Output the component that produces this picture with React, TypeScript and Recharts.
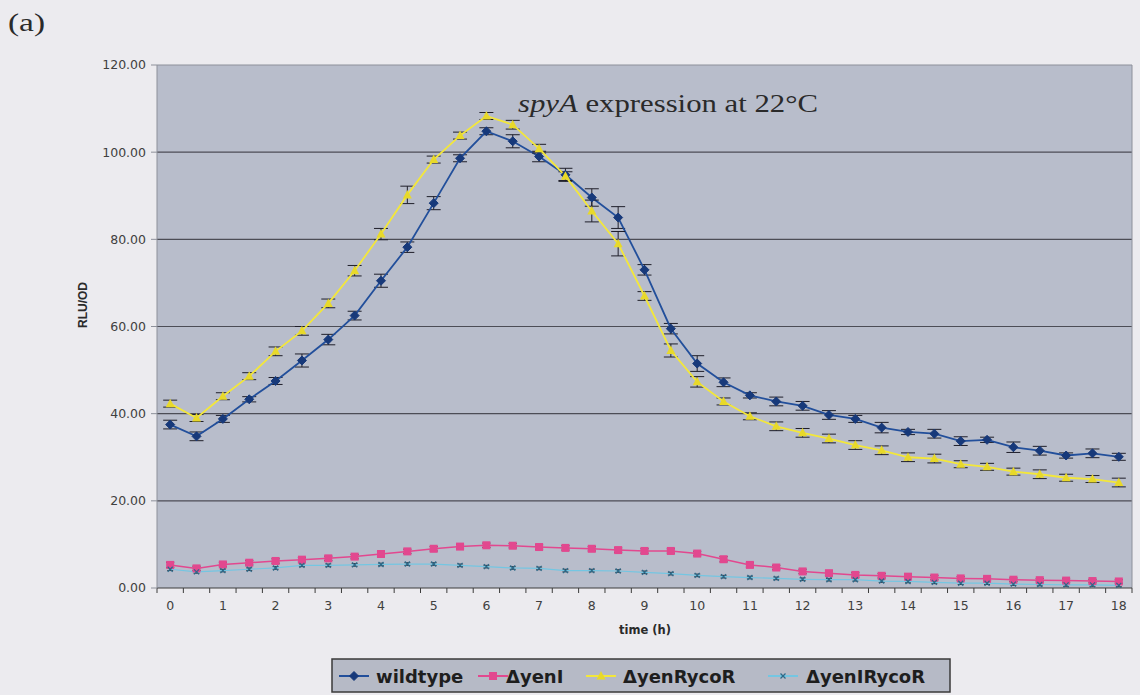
import React from 'react';
import {
  LineChart,
  Line,
  XAxis,
  YAxis,
  CartesianGrid,
  ReferenceLine,
  ErrorBar,
} from 'recharts';

// time points (h)
const TIME = [
  0, 0.5, 1, 1.5, 2, 2.5, 3, 3.5, 4, 4.5, 5, 5.5, 6, 6.5, 7, 7.5, 8, 8.5, 9,
  9.5, 10, 10.5, 11, 11.5, 12, 12.5, 13, 13.5, 14, 14.5, 15, 15.5, 16, 16.5, 17,
  17.5, 18,
];

const WILDTYPE = [
  37.5, 34.8, 38.8, 43.3, 47.5, 52.2, 57, 62.5, 70.5, 78.2, 88.3, 98.6, 104.8,
  102.5, 99, 94.8, 89.6, 85, 73, 59.5, 51.5, 47.2, 44.2, 42.8, 41.8, 39.7, 38.8,
  36.8, 35.8, 35.4, 33.7, 34, 32.3, 31.5, 30.4, 30.9, 30.1,
];
const WILDTYPE_ERR = [
  1, 1, 0.8, 0.6, 0.8, 1.5, 1.2, 1, 1.5, 1.2, 1.5, 0.8, 0.8, 1.5, 1.2, 1.5, 2,
  2.5, 1.2, 1.2, 1.8, 1, 0.6, 1, 1, 1, 0.8, 1.2, 0.6, 1, 1, 0.6, 1.2, 1, 0.6, 1,
  0.8,
];

const YENI = [
  5.3, 4.5, 5.4, 5.8, 6.2, 6.5, 6.8, 7.2, 7.8, 8.4, 9, 9.5, 9.8, 9.7, 9.4, 9.2,
  9, 8.7, 8.5, 8.5, 7.9, 6.6, 5.3, 4.7, 3.8, 3.4, 3, 2.8, 2.6, 2.4, 2.2, 2.1,
  1.9, 1.8, 1.7, 1.6, 1.5,
];
const YENI_ERR = [
  0.6, 0.5, 0.5, 0.5, 0.5, 0.5, 0.5, 0.5, 0.6, 0.5, 0.5, 0.5, 0.5, 0.5, 0.5,
  0.5, 0.5, 0.5, 0.5, 0.5, 0.5, 0.6, 0.5, 0.5, 0.5, 0.5, 0.5, 0.5, 0.5, 0.5,
  0.4, 0.4, 0.4, 0.4, 0.4, 0.4, 0.4,
];

const YENRYCOR = [
  42.3, 39, 44, 48.6, 54.3, 59, 65.3, 72.8, 81.2, 90.2, 98.3, 103.8, 108.3,
  106.3, 100.8, 94.5, 86.5, 79, 67, 54.5, 47.3, 42.8, 39.4, 37.1, 35.6, 34.3,
  32.8, 31.6, 30, 29.7, 28.4, 27.8, 26.7, 26.1, 25.3, 25, 24.2,
];
const YENRYCOR_ERR = [
  0.8, 0.8, 0.8, 0.8, 1, 1, 1, 1.2, 1.3, 2, 0.8, 0.8, 0.8, 1, 1, 1, 2.5, 2.8, 1,
  1.5, 1.2, 0.8, 0.8, 1, 1, 1, 1, 1, 1, 1, 0.8, 0.8, 0.8, 1, 0.8, 0.8, 1,
];

const YENIRYCOR = [
  4.3, 3.7, 4, 4.3, 4.6, 5.2, 5.2, 5.3, 5.4, 5.5, 5.5, 5.2, 4.9, 4.6, 4.5, 4,
  4, 3.9, 3.6, 3.3, 2.9, 2.6, 2.4, 2.2, 2, 1.9, 1.9, 1.6, 1.5, 1.3, 1.1, 1.1,
  0.9, 0.8, 0.7, 0.7, 0.6,
];
const YENIRYCOR_ERR = [
  0.3, 0.3, 0.3, 0.3, 0.3, 0.3, 0.3, 0.3, 0.3, 0.3, 0.3, 0.3, 0.3, 0.3, 0.3,
  0.3, 0.3, 0.3, 0.3, 0.3, 0.3, 0.3, 0.3, 0.3, 0.3, 0.3, 0.3, 0.3, 0.3, 0.3,
  0.3, 0.3, 0.3, 0.3, 0.3, 0.3, 0.3,
];

const Y_TICKS = [0, 20, 40, 60, 80, 100, 120];
const GRID_VALUES = [20, 40, 60, 80, 100];

const SERIES_NAMES = ['wildtype', 'ΔyenI', 'ΔyenRycoR', 'ΔyenIRycoR'];

const data = TIME.map((t, i) => ({
  t,
  wt: WILDTYPE[i],
  wtErr: WILDTYPE_ERR[i],
  yenI: YENI[i],
  yenIErr: YENI_ERR[i],
  yenR: YENRYCOR[i],
  yenRErr: YENRYCOR_ERR[i],
  yenIR: YENIRYCOR[i],
  yenIRErr: YENIRYCOR_ERR[i],
}));

// category boundaries (excel-style: labels sit between tick marks)
const BOUNDARIES = [...TIME.map((t) => t - 0.25), 18.25];

const W = 1140;
const H = 695;
const PLOT_LEFT = 157;
const PLOT_RIGHT = 1132;
const PLOT_TOP = 65;
const PLOT_BOTTOM = 588;
const Y_AXIS_W = 60;
const X_AXIS_H = 30;
const HALF_SLOT = ((PLOT_RIGHT - PLOT_LEFT) / 18.5) * 0.25;

const colors = {
  page: '#ecebef',
  plot: '#b8bdcb',
  grid: '#4c4d56',
  border: '#8d909a',
  text: '#404040',
  wt: '#224f9b',
  wtDot: '#17397a',
  yenI: '#e2488f',
  yenR: '#f3e73a',
  yenRDot: '#e8d92a',
  yenIR: '#74c6e2',
  yenIRDot: '#2c6a8a',
  err: '#1f1f2a',
};

const tickFont = { fontFamily: 'DejaVu Sans', fontSize: 12.5, fill: colors.text };

const DiamondDot = (props: any) => {
  const { cx, cy, index } = props;
  if (cx == null || cy == null) return <g key={`wt-${index}`} />;
  const r = 4.5;
  return (
    <polygon
      key={`wt-${index}`}
      points={`${cx},${cy - r} ${cx + r},${cy} ${cx},${cy + r} ${cx - r},${cy}`}
      fill={colors.wtDot}
      stroke={colors.wtDot}
    />
  );
};

const SquareDot = (props: any) => {
  const { cx, cy, index } = props;
  if (cx == null || cy == null) return <g key={`yi-${index}`} />;
  return (
    <rect key={`yi-${index}`} x={cx - 4} y={cy - 4} width={8} height={8} fill={colors.yenI} />
  );
};

const TriangleDot = (props: any) => {
  const { cx, cy, index } = props;
  if (cx == null || cy == null) return <g key={`yr-${index}`} />;
  return (
    <polygon
      key={`yr-${index}`}
      points={`${cx},${cy - 5} ${cx + 4.5},${cy + 3.5} ${cx - 4.5},${cy + 3.5}`}
      fill={colors.yenRDot}
    />
  );
};

const CrossDot = (props: any) => {
  const { cx, cy, index } = props;
  if (cx == null || cy == null) return <g key={`yir-${index}`} />;
  const r = 2.5;
  return (
    <g key={`yir-${index}`} stroke={colors.yenIRDot} strokeWidth={1.2}>
      <line x1={cx - r} y1={cy - r} x2={cx + r} y2={cy + r} />
      <line x1={cx - r} y1={cy + r} x2={cx + r} y2={cy - r} />
    </g>
  );
};

const XTick = (props: any) => {
  const { x, y, payload } = props;
  const center = payload.value + 0.25;
  if (Math.abs(center - Math.round(center)) > 1e-6) return <g />;
  return (
    <text x={x + HALF_SLOT} y={y} dy="0.71em" textAnchor="middle" {...tickFont}>
      {Math.round(center)}
    </text>
  );
};

const legendItems = [
  { name: SERIES_NAMES[0], color: colors.wt, Dot: DiamondDot, lx: 339, tx: 376 },
  { name: SERIES_NAMES[1], color: colors.yenI, Dot: SquareDot, lx: 478, tx: 506 },
  { name: SERIES_NAMES[2], color: colors.yenR, Dot: TriangleDot, lx: 586, tx: 623 },
  { name: SERIES_NAMES[3], color: colors.yenIR, Dot: CrossDot, lx: 768, tx: 806 },
];

export default function App() {
  return (
    <div
      style={{
        position: 'absolute',
        left: 0,
        top: 0,
        width: W,
        height: H,
        background: colors.page,
        overflow: 'hidden',
      }}
    >
      <LineChart
        width={W}
        height={H}
        data={data}
        margin={{
          top: PLOT_TOP,
          right: W - PLOT_RIGHT,
          left: PLOT_LEFT - Y_AXIS_W,
          bottom: H - PLOT_BOTTOM - X_AXIS_H,
        }}
      >
        <CartesianGrid
          fill={colors.plot}
          vertical={false}
          horizontalValues={GRID_VALUES}
          stroke={colors.grid}
          strokeWidth={1.2}
        />
        <ReferenceLine y={120} stroke={colors.border} />
        <ReferenceLine x={18.25} stroke={colors.border} />
        <XAxis
          dataKey="t"
          type="number"
          domain={[-0.25, 18.25]}
          ticks={BOUNDARIES}
          interval={0}
          height={X_AXIS_H}
          tick={<XTick />}
          tickSize={5}
          tickMargin={8}
          stroke="#3c3c3c"
          allowDataOverflow
        />
        <YAxis
          type="number"
          domain={[0, 120]}
          ticks={Y_TICKS}
          interval={0}
          width={Y_AXIS_W}
          tickFormatter={(v: number) => v.toFixed(2)}
          tick={tickFont}
          tickSize={6}
          tickMargin={5}
          stroke={colors.border}
        />
        <Line
          dataKey="wt"
          stroke={colors.wt}
          strokeWidth={1.8}
          dot={DiamondDot}
          isAnimationActive={false}
        >
          <ErrorBar dataKey="wtErr" direction="y" width={7} stroke={colors.err} strokeWidth={1} />
        </Line>
        <Line
          dataKey="yenI"
          stroke={colors.yenI}
          strokeWidth={1.5}
          dot={SquareDot}
          isAnimationActive={false}
        >
          <ErrorBar dataKey="yenIErr" direction="y" width={4} stroke={colors.err} strokeWidth={1} />
        </Line>
        <Line
          dataKey="yenR"
          stroke={colors.yenR}
          strokeWidth={1.8}
          dot={TriangleDot}
          isAnimationActive={false}
        >
          <ErrorBar dataKey="yenRErr" direction="y" width={7} stroke={colors.err} strokeWidth={1} />
        </Line>
        <Line
          dataKey="yenIR"
          stroke={colors.yenIR}
          strokeWidth={1.2}
          dot={CrossDot}
          isAnimationActive={false}
        >
          <ErrorBar dataKey="yenIRErr" direction="y" width={3} stroke={colors.err} strokeWidth={0.8} />
        </Line>
      </LineChart>

      <svg
        width={W}
        height={H}
        style={{ position: 'absolute', left: 0, top: 0, pointerEvents: 'none' }}
      >
        <text
          x={8}
          y={31}
          fontFamily="Liberation Serif"
          fontSize={26}
          fill="#2a2a2a"
          textLength={37}
          lengthAdjust="spacingAndGlyphs"
        >
          (a)
        </text>
        <text
          x={518}
          y={112}
          fontFamily="Liberation Serif"
          fontSize={26}
          fill="#2a2a2a"
          textLength={300}
          lengthAdjust="spacingAndGlyphs"
        >
          <tspan fontStyle="italic">spyA</tspan> expression at 22°C
        </text>
        <text
          x={84}
          y={305}
          transform="rotate(-90 84 305)"
          textAnchor="middle"
          dominantBaseline="middle"
          fontFamily="Liberation Sans"
          fontWeight="bold"
          fontSize={12}
          fill="#2a2a2a"
        >
          RLU/OD
        </text>
        <text
          x={645}
          y={634}
          textAnchor="middle"
          fontFamily="DejaVu Sans"
          fontWeight="bold"
          fontSize={11.5}
          fill="#2a2a2a"
        >
          time (h)
        </text>

        <rect x={332} y={659} width={618} height={33} fill="#b6bac6" stroke="#3a3a3a" strokeWidth={1.5} />
        {legendItems.map(({ name, color, Dot, lx, tx }, i) => (
          <g key={name}>
            <line x1={lx} y1={676} x2={lx + 30} y2={676} stroke={color} strokeWidth={2} />
            <Dot cx={lx + 15} cy={676} index={`lg${i}`} />
            <text
              x={tx}
              y={682.5}
              fontFamily="DejaVu Sans"
              fontWeight="bold"
              fontSize={18}
              fill="#1e1e1e"
            >
              {name}
            </text>
          </g>
        ))}
      </svg>
    </div>
  );
}
